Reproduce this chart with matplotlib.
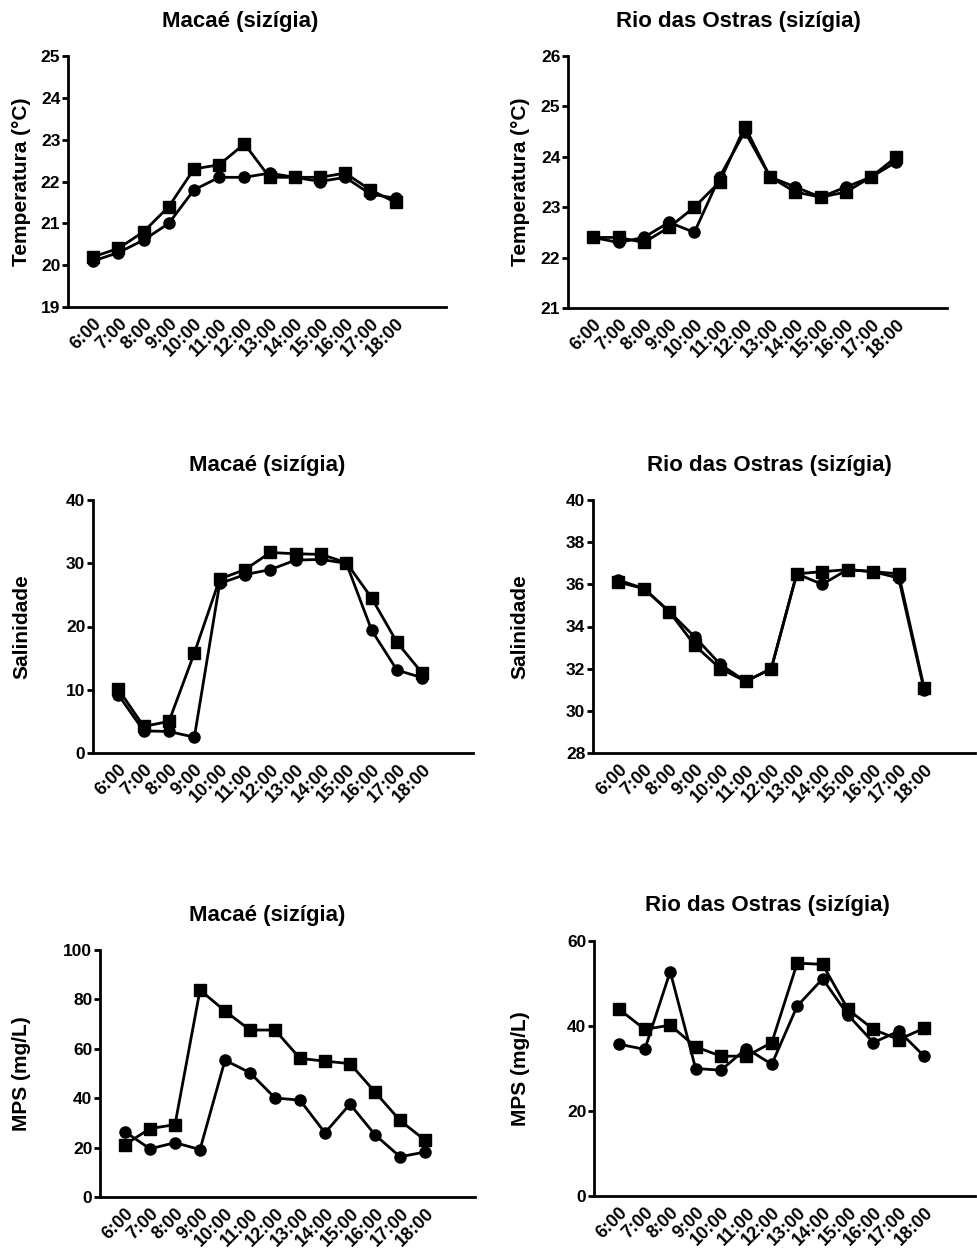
import matplotlib
matplotlib.use("Agg")
import matplotlib.pyplot as plt
import matplotlib.transforms as mtransforms

plt.rcParams['font.family'] = ['Liberation Sans', 'DejaVu Sans']
plt.rcParams['font.weight'] = 'bold'

hours = ["6:00", "7:00", "8:00", "9:00", "10:00", "11:00", "12:00",
         "13:00", "14:00", "15:00", "16:00", "17:00", "18:00"]

# Temperature
macae_temp_sq = [20.2, 20.4, 20.8, 21.4, 22.3, 22.4, 22.9, 22.1, 22.1, 22.1, 22.2, 21.8, 21.5]
macae_temp_ci = [20.1, 20.3, 20.6, 21.0, 21.8, 22.1, 22.1, 22.2, 22.1, 22.0, 22.1, 21.7, 21.6]
rio_temp_sq = [22.4, 22.4, 22.3, 22.6, 23.0, 23.5, 24.6, 23.6, 23.3, 23.2, 23.3, 23.6, 24.0]
rio_temp_ci = [22.4, 22.3, 22.4, 22.7, 22.5, 23.6, 24.5, 23.6, 23.4, 23.2, 23.4, 23.6, 23.9]

# Salinity
macae_sal_sq = [10.1, 4.2, 5.0, 15.8, 27.5, 29.0, 31.7, 31.5, 31.4, 30.1, 24.5, 17.5, 12.6]
macae_sal_ci = [9.2, 3.5, 3.4, 2.5, 26.8, 28.2, 29.0, 30.5, 30.6, 30.0, 19.4, 13.1, 11.9]
rio_sal_sq = [36.1, 35.8, 34.7, 33.1, 32.0, 31.4, 32.0, 36.5, 36.6, 36.7, 36.6, 36.5, 31.1]
rio_sal_ci = [36.2, 35.8, 34.7, 33.5, 32.2, 31.4, 32.0, 36.5, 36.0, 36.7, 36.6, 36.3, 31.0]

# MPS
macae_mps_sq = [21.2, 27.7, 29.3, 83.8, 75.3, 67.6, 67.6, 56.1, 55.0, 54.0, 42.5, 31.0, 23.0]
macae_mps_ci = [26.4, 19.5, 22.0, 19.2, 55.4, 50.3, 40.1, 39.2, 26.0, 37.6, 25.2, 16.3, 18.2]
rio_mps_sq = [43.9, 39.2, 40.2, 35.1, 32.9, 32.9, 36.1, 54.8, 54.5, 43.9, 39.2, 36.8, 39.5]
rio_mps_ci = [35.7, 34.5, 52.8, 30.0, 29.6, 34.7, 31.0, 44.7, 51.1, 42.6, 36.1, 38.8, 32.9]

W, H = 977, 1251
fig = plt.figure(figsize=(W / 100, H / 100), dpi=100)

panels = [
    # (x0, x1, ytop, ybot, ylim, yticks, ylabel, title, title_xy, ylabel_x, sq, ci)
    (68, 446, 56, 307, (19, 25), range(19, 26), "Temperatura (°C)", "Macaé (sizígia)", (240, 22), 22, macae_temp_sq, macae_temp_ci),
    (568, 947, 56, 308, (21, 26), range(21, 27), "Temperatura (°C)", "Rio das Ostras (sizígia)", (738, 22), 520, rio_temp_sq, rio_temp_ci),
    (93, 473, 500, 753, (0, 40), range(0, 41, 10), "Salinidade", "Macaé (sizígia)", (267, 465), 22, macae_sal_sq, macae_sal_ci),
    (593, 975, 500, 753, (28, 40), range(28, 41, 2), "Salinidade", "Rio das Ostras (sizígia)", (769, 465), 520, rio_sal_sq, rio_sal_ci),
    (100, 475, 950, 1197, (0, 100), range(0, 101, 20), "MPS (mg/L)", "Macaé (sizígia)", (267, 915), 22, macae_mps_sq, macae_mps_ci),
    (594, 975, 941, 1196, (0, 60), range(0, 61, 20), "MPS (mg/L)", "Rio das Ostras (sizígia)", (767, 905), 520, rio_mps_sq, rio_mps_ci),
]

shift = mtransforms.ScaledTranslation(-6 / 100, 0, fig.dpi_scale_trans)

x = list(range(len(hours)))
for (x0, x1, yt, yb, ylim, yticks, ylabel, title, txy, ylx, sq, ci) in panels:
    ax = fig.add_axes([x0 / W, 1 - yb / H, (x1 - x0) / W, (yb - yt) / H])
    ax.plot(x, ci, color='black', lw=2.0, marker='o', ms=8, zorder=3, clip_on=False)
    ax.plot(x, sq, color='black', lw=2.0, marker='s', ms=8, zorder=4, clip_on=False)
    ax.set_xlim(-1, 14)
    ax.set_ylim(*ylim)
    ax.set_yticks(list(yticks))
    ax.set_xticks(x)
    ax.set_xticklabels(hours, rotation=45, ha='right', va='top',
                       rotation_mode='anchor', fontsize=13, fontweight='bold')
    for lab in ax.get_xticklabels():
        lab.set_transform(lab.get_transform() + shift)
    for lab in ax.get_yticklabels():
        lab.set_fontsize(12.5)
        lab.set_fontweight('bold')
    ax.tick_params(axis='x', length=0, pad=6)
    ax.tick_params(axis='y', length=4.5, width=2.0, direction='out', pad=1)
    for s in ['top', 'right']:
        ax.spines[s].set_visible(False)
    for s in ['left', 'bottom']:
        ax.spines[s].set_linewidth(2.0)
    fig.text(txy[0] / W, 1 - txy[1] / H, title, ha='center', va='center',
             fontsize=16, fontweight='bold')
    fig.text(ylx / W, 1 - (yt + yb) / 2 / H, ylabel, rotation=90, ha='center',
             va='center', fontsize=15, fontweight='bold')

fig.savefig("out.png", dpi=100, facecolor='white')
